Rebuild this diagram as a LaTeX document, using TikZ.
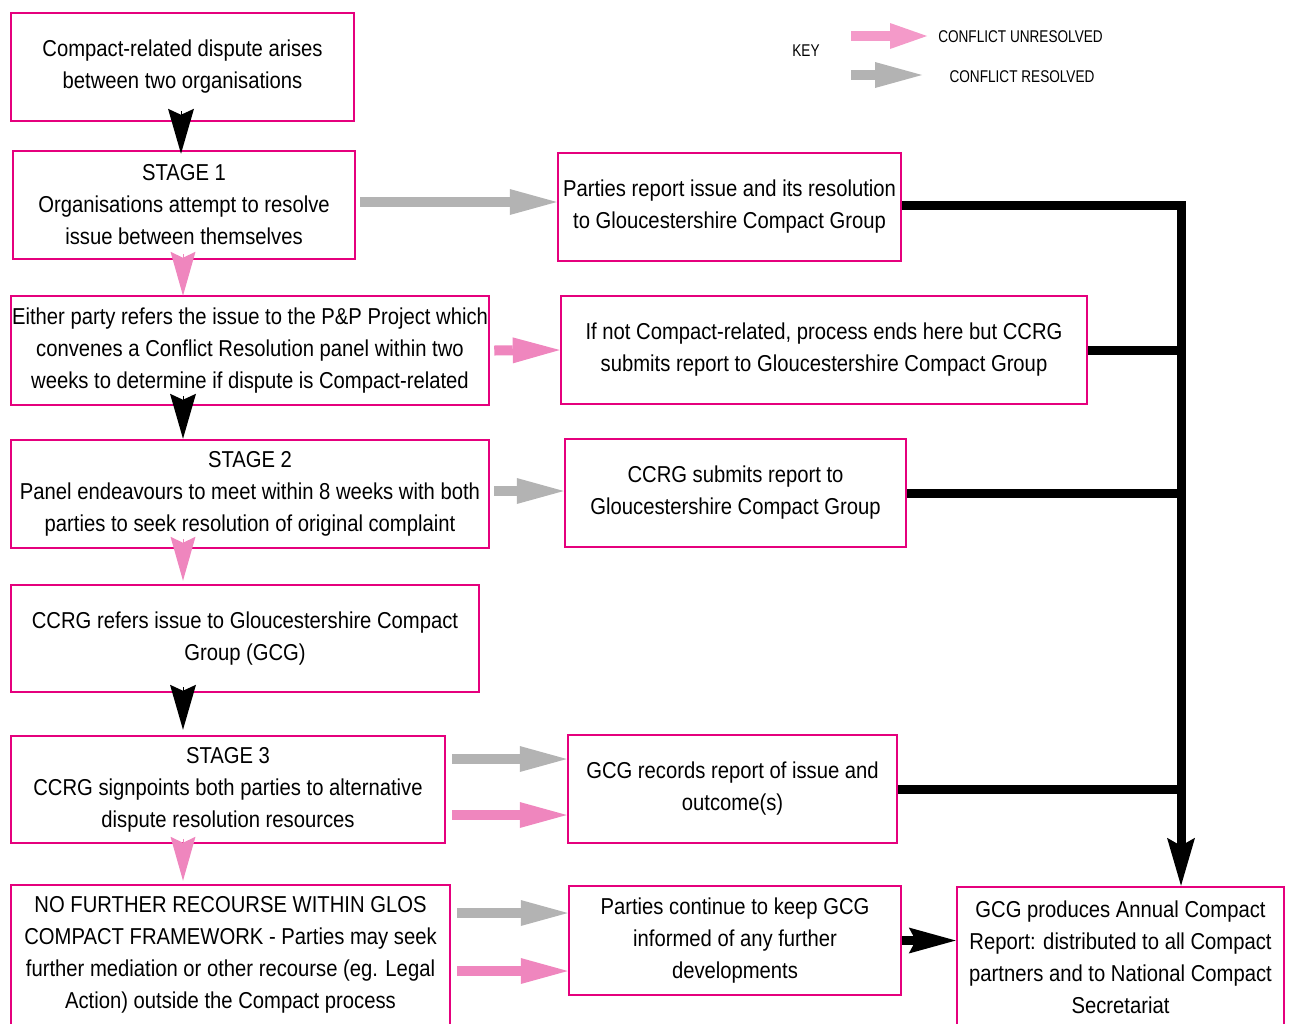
\documentclass[tikz,border=0pt]{standalone}
\usepackage{fontspec}
\setmainfont{Liberation Sans}[FakeStretch=0.88]
\newfontfamily\keyfont{Liberation Sans}[FakeStretch=0.8]
\usetikzlibrary{arrows.meta}
\definecolor{mag}{HTML}{E5007D}
\definecolor{pinkA}{HTML}{EF86BE}
\definecolor{pinkK}{HTML}{F49AC9}
\definecolor{greyA}{HTML}{B3B3B3}
\begin{document}
\begin{tikzpicture}[x=1pt,y=-1pt,
  box/.style={draw=mag, line width=2.5pt, inner sep=0pt, align=center,
    font=\fontsize{23}{32}\selectfont},
  keytext/.style={inner sep=0pt, font=\keyfont\fontsize{17}{20}\selectfont},
  greyarr/.style={draw=greyA, line width=10pt, -{Triangle[length=47pt,width=26pt,line width=0pt]}},
  pinkarr/.style={draw=pinkA, line width=10pt, -{Triangle[length=47pt,width=26pt,line width=0pt]}},
  blkhead/.style={draw=black, line width=0.1pt, -{Stealth[length=45pt,width=26pt,inset=6pt,line width=0pt]}},
  pinkhead/.style={draw=pinkA, line width=0.1pt, -{Stealth[length=44pt,width=25pt,inset=6pt,line width=0pt]}},
  blkline/.style={draw=black, line width=9pt, line join=miter},
  blktip/.style={-{Stealth[length=48pt,width=28pt,inset=8pt,line width=0pt]}}
]
\useasboundingbox (0,0) rectangle (1289,1023);

% left column
\node[box, minimum width=343pt, minimum height=108pt] (a) at (182.5,67)
  {Compact-related dispute arises\\between two organisations};
\node[box, minimum width=342pt, minimum height=108pt] (s1) at (184,205)
  {STAGE 1\\Organisations attempt to resolve\\issue between themselves};
\node[box, minimum width=478pt, minimum height=109pt] (pp) at (250,350.5)
  {Either party refers the issue to the P\&P Project which\\convenes a Conflict Resolution panel within two\\weeks to determine if dispute is Compact-related};
\node[box, minimum width=478pt, minimum height=108pt] (s2) at (250,494)
  {STAGE 2\\Panel endeavours to meet within 8 weeks with both\\parties to seek resolution of original complaint};
\node[box, minimum width=468pt, minimum height=107pt] (cc) at (245,638.5)
  {CCRG refers issue to Gloucestershire Compact\\Group (GCG)};
\node[box, minimum width=434pt, minimum height=107pt] (s3) at (228,789.5)
  {STAGE 3\\CCRG signpoints both parties to alternative\\dispute resolution resources};
\node[box, minimum width=439pt, minimum height=140pt] (nf) at (230.5,955)
  {NO FURTHER RECOURSE WITHIN GLOS\\COMPACT FRAMEWORK - Parties may seek\\further mediation or other recourse (eg. Legal\\Action) outside the Compact process};

% right column
\node[box, minimum width=343pt, minimum height=108pt] (r1) at (729.5,207)
  {Parties report issue and its resolution\\to Gloucestershire Compact Group};
\node[box, minimum width=526pt, minimum height=108pt] (r2) at (824,350)
  {If not Compact-related, process ends here but CCRG\\submits report to Gloucestershire Compact Group};
\node[box, minimum width=341pt, minimum height=108pt] (r3) at (735.5,493)
  {CCRG submits report to\\Gloucestershire Compact Group};
\node[box, minimum width=329pt, minimum height=108pt] (r4) at (732.5,789)
  {GCG records report of issue and\\outcome(s)};
\node[box, minimum width=332pt, minimum height=109pt] (r5) at (735,940.5)
  {Parties continue to keep GCG\\informed of any further\\developments};
\node[box, minimum width=327pt, minimum height=140pt] (r6) at (1120.5,957)
  {GCG produces Annual Compact\\Report: distributed to all Compact\\partners and to National Compact\\Secretariat};

% key
\node[keytext] (key) at (806,51) {KEY};
\node[keytext] (unres) at (1020.5,37) {CONFLICT UNRESOLVED};
\node[keytext] (res) at (1022,77) {CONFLICT RESOLVED};
\coordinate (kp1) at (851,36);
\coordinate (kp2) at (927,36);
\coordinate (kg1) at (851,75);
\coordinate (kg2) at (922,75);
\draw[draw=pinkK, line width=10pt, -{Triangle[length=37pt,width=26pt,line width=0pt]}] (kp1) -- (kp2);
\draw[draw=greyA, line width=10pt, -{Triangle[length=47pt,width=26pt,line width=0pt]}] (kg1) -- (kg2);

% vertical heads on the left
\draw[blkhead] ([xshift=-1.5pt,yshift=11pt]a.south) -- ([xshift=-3pt,yshift=-4pt]s1.north);
\draw[pinkhead] ([xshift=-1pt,yshift=6pt]s1.south) -- ([xshift=-67pt,yshift=-1pt]pp.north);
\draw[blkhead] ([xshift=-67pt,yshift=10pt]pp.south) -- ([xshift=-67pt]s2.north);
\draw[pinkhead] ([xshift=-67pt,yshift=10pt]s2.south) -- ([xshift=-62pt,yshift=3pt]cc.north);
\draw[blkhead] ([xshift=-62pt,yshift=6pt]cc.south) -- ([xshift=-45pt,yshift=5pt]s3.north);
\draw[pinkhead] ([xshift=-45pt,yshift=5pt]s3.south) -- ([xshift=-47.5pt,yshift=3pt]nf.north);

% horizontal grey / pink arrows
\draw[greyarr] ([xshift=4pt,yshift=3pt]s1.east) -- ([yshift=5pt]r1.west);
\draw[pinkarr] ([xshift=4pt]pp.east) -- (r2.west);
\draw[greyarr] ([xshift=4pt,yshift=3pt]s2.east) -- ([yshift=2pt]r3.west);
\draw[greyarr] ([xshift=6pt,yshift=30.5pt]s3.east) -- ([yshift=30pt]r4.west);
\draw[pinkarr] ([xshift=6pt,yshift=-25.5pt]s3.east) -- ([yshift=-26pt]r4.west);
\draw[greyarr] ([xshift=6pt,yshift=42pt]nf.east) -- ([yshift=27.5pt]r5.west);
\draw[pinkarr] ([xshift=6pt,yshift=-16pt]nf.east) -- ([yshift=-30.5pt]r5.west);

% black trunk
\coordinate (trunk) at (1181,205);
\draw[blkline, blktip] ([yshift=2pt]r1.east) -| (trunk |- r6.north);
\draw[blkline] (r2.east) -- (r2.east -| trunk);
\draw[blkline] (r3.east) -- (r3.east -| trunk);
\draw[blkline] (r4.east) -- (r4.east -| trunk);
\draw[blkline, -{Stealth[length=47pt,width=26pt,inset=7pt,line width=0pt]}] (r5.east) -- (r6.west |- r5.east);
\end{tikzpicture}
\end{document}
